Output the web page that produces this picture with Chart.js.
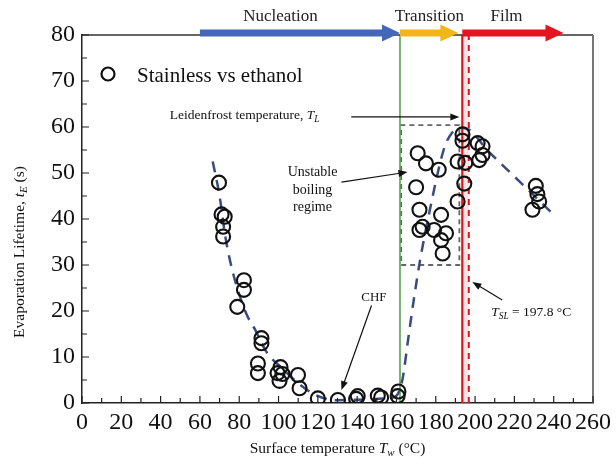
<!DOCTYPE html>
<html>
<head>
<meta charset="utf-8">
<script src="https://cdn.jsdelivr.net/npm/chart.js@4.4.0/dist/chart.umd.min.js"></script>
<style>
html, body { margin: 0; padding: 0; background: #fff; }
</style>
</head>
<body>
<canvas id="chart" width="616" height="467"></canvas>
<script>
// measured droplets (surface temperature, lifetime)
const tempC = [69.7, 71, 72.6, 71.8, 71.8, 82.4, 82.4, 79, 91.3, 91.3, 89.5, 89.5,
    101, 99.5, 102, 100.5, 109.9, 110.7, 120, 130.2, 140.3, 139.5, 152.2, 150.5, 160.6, 161,
    170.8, 175, 181.5, 170, 171.7, 182.7, 173.3, 171.7, 179.1, 185.2, 182.7, 183.5,
    193.6, 193.6, 191.1, 195, 194.5, 191.1, 201.3, 203.8, 202.1, 203.8,
    230.9, 231.7, 232.6, 229.2];
const lifeS = [47.9, 41, 40.5, 38.3, 36.2, 26.7, 24.6, 20.9, 14.1, 13, 8.6, 6.5,
    7.8, 6.5, 6.3, 4.8, 6.1, 3.2, 1.0, 0.65, 1.5, 0.9, 1.2, 1.6, 1.5, 2.5,
    54.3, 52.1, 50.7, 46.9, 42.0, 40.9, 38.3, 37.6, 37.6, 36.9, 35.4, 32.5,
    58.4, 57.0, 52.5, 52.2, 47.7, 43.8, 56.5, 55.8, 52.8, 53.9,
    47.2, 45.4, 43.8, 42.0];

// dashed trend curve
const curveT = [66.5, 70, 73, 77, 83.5, 88, 94, 102, 110, 119, 130, 145, 155, 160,
    163, 166, 169, 172, 177, 184, 188, 194.5, 207, 222, 241];
const curveL = [52.5, 45, 36, 28, 19.5, 16, 11, 7.5, 4.3, 1.7, 0.6, 0.8, 1.0, 1.6,
    5, 14, 23, 31, 42, 55, 58.6, 59.8, 54.6, 48.4, 40.5];

const tCHF = 161.8;   // green line
const tL = 193.5;     // Leidenfrost temperature
const tSL = 196.8;    // dashed red line
const boxT = [162.4, 192];
const boxL = [30, 60.4];

const regions = ['Nucleation', 'Transition', 'Film'];
const regionLabelT = [101, 176.7, 216];
const regionStart = [60, tCHF, tL];
const regionEnd = [tCHF, 191.5, 245];
const regionColors = ['#4467b8', '#f2b51c', '#e6141e'];

const xTicks = [0, 260, 20];
const yTicks = [0, 80, 10];

const serif = "'Liberation Serif', 'Times New Roman', serif";

function pts(xs, ys) {
    return xs.map((x, i) => ({ x: x, y: ys[i] }));
}

function richText(ctx, parts, x, y, size, align) {
    let total = 0;
    parts.forEach(p => {
        ctx.font = (p.it ? 'italic ' : '') + (p.sub ? size * 0.7 : size) + 'px ' + serif;
        total += ctx.measureText(p.t).width;
    });
    let cx = align === 'left' ? x : x - total / 2;
    ctx.textAlign = 'left';
    ctx.textBaseline = 'middle';
    parts.forEach(p => {
        ctx.font = (p.it ? 'italic ' : '') + (p.sub ? size * 0.7 : size) + 'px ' + serif;
        ctx.fillText(p.t, cx, p.sub ? y + size * 0.28 : y);
        cx += ctx.measureText(p.t).width;
    });
}

function arrow(ctx, x0, y0, x1, y1) {
    const a = Math.atan2(y1 - y0, x1 - x0);
    ctx.beginPath();
    ctx.moveTo(x0, y0);
    ctx.lineTo(x1 - 6 * Math.cos(a), y1 - 6 * Math.sin(a));
    ctx.stroke();
    ctx.beginPath();
    ctx.moveTo(x1, y1);
    ctx.lineTo(x1 - 9 * Math.cos(a) + 3.5 * Math.sin(a), y1 - 9 * Math.sin(a) - 3.5 * Math.cos(a));
    ctx.lineTo(x1 - 9 * Math.cos(a) - 3.5 * Math.sin(a), y1 - 9 * Math.sin(a) + 3.5 * Math.cos(a));
    ctx.closePath();
    ctx.fill();
}

const decor = {
    id: 'decor',
    beforeDatasetsDraw(chart) {
        const { ctx, chartArea: a, scales: { x, y } } = chart;
        ctx.save();
        ctx.fillStyle = 'rgba(240,150,150,0.25)';
        ctx.fillRect(x.getPixelForValue(tL), a.top, x.getPixelForValue(tSL) - x.getPixelForValue(tL), a.bottom - a.top);
        ctx.restore();
    },
    afterDraw(chart) {
        const { ctx, chartArea: a, scales: { x, y } } = chart;
        ctx.save();

        // frame top/right
        ctx.strokeStyle = '#333';
        ctx.lineWidth = 1.5;
        ctx.beginPath();
        ctx.moveTo(a.left, a.top);
        ctx.lineTo(a.right, a.top);
        ctx.stroke();
        ctx.strokeStyle = '#777';
        ctx.lineWidth = 2;
        ctx.beginPath();
        ctx.moveTo(a.right, a.top);
        ctx.lineTo(a.right, a.bottom);
        ctx.stroke();

        // inward ticks
        ctx.strokeStyle = '#222';
        ctx.lineWidth = 1.2;
        ctx.beginPath();
        for (let v = xTicks[0]; v <= xTicks[1]; v += xTicks[2] / 2) {
            const px = x.getPixelForValue(v);
            const len = v % xTicks[2] === 0 ? 7 : 5;
            ctx.moveTo(px, a.bottom);
            ctx.lineTo(px, a.bottom - len);
        }
        for (let v = yTicks[0]; v <= yTicks[1]; v += yTicks[2] / 2) {
            const py = y.getPixelForValue(v);
            const len = v % yTicks[2] === 0 ? 7 : 5;
            ctx.moveTo(a.left, py);
            ctx.lineTo(a.left + len, py);
        }
        ctx.stroke();

        // regime arrows above the plot
        const ay = a.top - 2;
        regions.forEach((r, i) => {
            const x0 = x.getPixelForValue(regionStart[i]);
            const x1 = x.getPixelForValue(regionEnd[i]);
            ctx.fillStyle = regionColors[i];
            ctx.fillRect(x0, ay - 3.5, x1 - x0 - 16, 7);
            ctx.beginPath();
            ctx.moveTo(x1 - 18, ay - 8.5);
            ctx.lineTo(x1, ay);
            ctx.lineTo(x1 - 18, ay + 8.5);
            ctx.closePath();
            ctx.fill();
            ctx.fillStyle = '#222';
            richText(ctx, [{ t: r }], x.getPixelForValue(regionLabelT[i]), 17, 17);
        });

        // legend
        ctx.strokeStyle = '#111';
        ctx.lineWidth = 2.2;
        ctx.beginPath();
        ctx.arc(108, 74, 6.5, 0, Math.PI * 2);
        ctx.stroke();
        ctx.fillStyle = '#111';
        richText(ctx, [{ t: 'Stainless vs ethanol' }], 137, 76, 21, 'left');

        // annotations
        ctx.fillStyle = '#111';
        ctx.strokeStyle = '#111';
        ctx.lineWidth = 1.2;
        richText(ctx, [{ t: 'Leidenfrost temperature, ' }, { t: 'T', it: true }, { t: 'L', it: true, sub: true }],
            x.getPixelForValue(44.7), y.getPixelForValue(62.5), 13.5, 'left');
        arrow(ctx, x.getPixelForValue(137), y.getPixelForValue(62.2), x.getPixelForValue(192), y.getPixelForValue(62.2));

        richText(ctx, [{ t: 'Unstable' }], x.getPixelForValue(117.3), y.getPixelForValue(50.2), 14);
        richText(ctx, [{ t: 'boiling' }], x.getPixelForValue(117.3), y.getPixelForValue(46.3), 14);
        richText(ctx, [{ t: 'regime' }], x.getPixelForValue(117.3), y.getPixelForValue(42.6), 14);
        arrow(ctx, x.getPixelForValue(132), y.getPixelForValue(48), x.getPixelForValue(165.6), y.getPixelForValue(50.2));

        richText(ctx, [{ t: 'CHF' }], x.getPixelForValue(148.5), y.getPixelForValue(23), 13);
        arrow(ctx, x.getPixelForValue(147.3), y.getPixelForValue(21.2), x.getPixelForValue(132), y.getPixelForValue(2.8));

        richText(ctx, [{ t: 'T', it: true }, { t: 'SL', it: true, sub: true }, { t: ' = 197.8 \u00b0C' }],
            x.getPixelForValue(208.2), y.getPixelForValue(19.6), 13.5, 'left');
        arrow(ctx, x.getPixelForValue(213.8), y.getPixelForValue(22.4), x.getPixelForValue(198.6), y.getPixelForValue(26.3));

        // axis titles
        richText(ctx, [{ t: 'Surface temperature ' }, { t: 'T', it: true }, { t: 'w', it: true, sub: true }, { t: ' (\u00b0C)' }],
            (a.left + a.right) / 2, 449, 15.5);
        ctx.translate(20, 252);
        ctx.rotate(-Math.PI / 2);
        richText(ctx, [{ t: 'Evaporation Lifetime, ' }, { t: 't', it: true }, { t: 'E', it: true, sub: true }, { t: ' (s)' }],
            0, 0, 15.5);
        ctx.restore();
    }
};

const ctx = document.getElementById('chart').getContext('2d');
const chart = new Chart(ctx, {
    type: 'scatter',
    data: {
        datasets: [
            {
                label: 'Stainless vs ethanol',
                data: pts(tempC, lifeS),
                pointRadius: 7,
                pointBorderWidth: 2.1,
                borderColor: '#111',
                backgroundColor: 'rgba(0,0,0,0)',
                order: 0
            },
            {
                type: 'line',
                data: pts(curveT, curveL),
                borderColor: '#3b4b7c',
                borderWidth: 2.5,
                borderDash: [11, 8],
                pointRadius: 0,
                cubicInterpolationMode: 'monotone',
                fill: false,
                order: 2
            },
            {
                type: 'line',
                data: pts([tCHF, tCHF], [0, 80]),
                borderColor: '#4f9b45',
                borderWidth: 1.5,
                pointRadius: 0,
                order: 3
            },
            {
                type: 'line',
                data: pts([tL, tL], [0, 80]),
                borderColor: '#e0141e',
                borderWidth: 2.2,
                pointRadius: 0,
                order: 3
            },
            {
                type: 'line',
                data: pts([tSL, tSL], [0, 80]),
                borderColor: '#e0141e',
                borderWidth: 2,
                borderDash: [6, 5],
                pointRadius: 0,
                order: 3
            },
            {
                type: 'line',
                data: pts([boxT[0], boxT[1], boxT[1], boxT[0], boxT[0]], [boxL[0], boxL[0], boxL[1], boxL[1], boxL[0]]),
                borderColor: '#666',
                borderWidth: 1.8,
                borderDash: [5, 4],
                pointRadius: 0,
                order: 3
            }
        ]
    },
    options: {
        responsive: false,
        animation: false,
        layout: { padding: { top: 35, right: 22, left: 0, bottom: 0 } },
        plugins: {
            legend: { display: false },
            tooltip: { enabled: false }
        },
        scales: {
            x: {
                type: 'linear',
                min: xTicks[0],
                max: xTicks[1],
                afterFit: s => { s.height = 64; },
                ticks: {
                    stepSize: xTicks[2],
                    autoSkip: false,
                    maxRotation: 0,
                    padding: 5,
                    color: '#111',
                    font: { family: serif, size: 24 }
                },
                grid: { display: false, drawTicks: false },
                border: { color: '#222', width: 1.5 }
            },
            y: {
                min: yTicks[0],
                max: yTicks[1],
                afterFit: s => { s.width = 82; },
                ticks: {
                    stepSize: yTicks[2],
                    padding: 7,
                    color: '#111',
                    font: { family: serif, size: 24 }
                },
                grid: { display: false, drawTicks: false },
                border: { color: '#222', width: 1.5 }
            }
        }
    },
    plugins: [decor]
});
</script>
</body>
</html>
